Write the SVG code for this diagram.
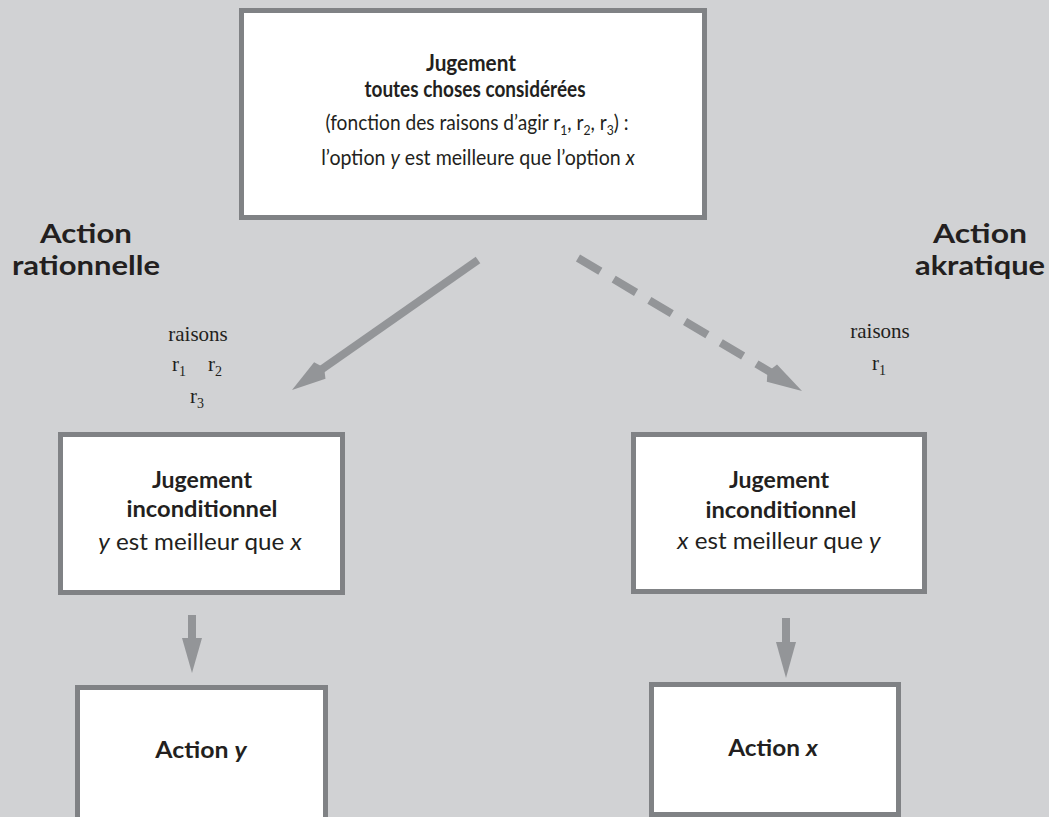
<svg xmlns="http://www.w3.org/2000/svg" width="1049" height="817" viewBox="0 0 1049 817">
  <style>
    .box { fill: #ffffff; stroke: #808285; stroke-width: 5; }
    .sans { font-family: Lato, "Open Sans", "Liberation Sans", sans-serif; fill: #231f20; }
    .serif { font-family: "Liberation Serif", "DejaVu Serif", serif; fill: #231f20; }
    .b { font-weight: bold; }
    .i { font-style: italic; }
    .title { font-size: 26px; font-weight: bold; }
    .t { font-size: 22px; }
    .m { font-size: 23px; }
    .r { font-size: 21px; }
    .sub { font-size: 14px; }
    .arrow { fill: #939598; stroke: none; }
    .shaft { stroke: #939598; stroke-width: 8; fill: none; stroke-linecap: butt; }
  </style>

  <rect width="1049" height="817" fill="#d1d2d4"/>

  <!-- side headings -->
  <g id="label-rationnelle" class="sans title" text-anchor="middle">
    <text x="86" y="243" textLength="92" lengthAdjust="spacingAndGlyphs">Action</text>
    <text x="86" y="275" textLength="148" lengthAdjust="spacingAndGlyphs">rationnelle</text>
  </g>
  <g id="label-akratique" class="sans title" text-anchor="middle">
    <text x="980" y="243" textLength="94" lengthAdjust="spacingAndGlyphs">Action</text>
    <text x="980" y="275" textLength="130" lengthAdjust="spacingAndGlyphs">akratique</text>
  </g>

  <!-- reasons -->
  <g id="raisons-left" class="serif r">
    <text x="198" y="341" text-anchor="middle">raisons</text>
    <text x="172" y="371">r<tspan class="sub" dy="5">1</tspan></text>
    <text x="208" y="371">r<tspan class="sub" dy="5">2</tspan></text>
    <text x="190" y="403">r<tspan class="sub" dy="5">3</tspan></text>
  </g>
  <g id="raisons-right" class="serif r">
    <text x="880" y="338" text-anchor="middle">raisons</text>
    <text x="872" y="370">r<tspan class="sub" dy="5">1</tspan></text>
  </g>

  <!-- top judgement -->
  <g id="jugement-global">
    <rect class="box" x="241.5" y="10.5" width="463" height="207"/>
    <g class="sans t" text-anchor="middle">
      <text x="471" y="71" class="b" textLength="90" lengthAdjust="spacingAndGlyphs">Jugement</text>
      <text x="475" y="97" class="b" textLength="221" lengthAdjust="spacingAndGlyphs">toutes choses considérées</text>
      <text transform="translate(477 130) scale(0.87 1)" x="0" y="0">(fonction des raisons d’agir r<tspan class="sub" dy="5">1</tspan><tspan dy="-5">, r</tspan><tspan class="sub" dy="5">2</tspan><tspan dy="-5">, r</tspan><tspan class="sub" dy="5">3</tspan><tspan dy="-5">) :</tspan></text>
      <text transform="translate(478 165) scale(0.89 1)" x="0" y="0">l’option <tspan class="i">y</tspan> est meilleure que l’option <tspan class="i">x</tspan></text>
    </g>
  </g>

  <!-- unconditional judgements -->
  <g id="jugement-rationnel">
    <rect class="box" x="60.5" y="434.5" width="282" height="158"/>
    <g class="sans m" text-anchor="middle">
      <text x="202" y="488" class="b" textLength="100" lengthAdjust="spacingAndGlyphs">Jugement</text>
      <text x="202" y="517" class="b" textLength="151" lengthAdjust="spacingAndGlyphs">inconditionnel</text>
      <text transform="translate(200 550) scale(1.05 1)" x="0" y="0"><tspan class="i">y</tspan> est meilleur que <tspan class="i">x</tspan></text>
    </g>
  </g>
  <g id="jugement-akratique">
    <rect class="box" x="633.5" y="434.5" width="291" height="157"/>
    <g class="sans m" text-anchor="middle">
      <text x="779" y="488" class="b" textLength="100" lengthAdjust="spacingAndGlyphs">Jugement</text>
      <text x="781" y="518" class="b" textLength="151" lengthAdjust="spacingAndGlyphs">inconditionnel</text>
      <text transform="translate(779 549) scale(1.05 1)" x="0" y="0"><tspan class="i">x</tspan> est meilleur que <tspan class="i">y</tspan></text>
    </g>
  </g>

  <!-- actions -->
  <g id="action-y">
    <rect class="box" x="77.5" y="687.5" width="248" height="140"/>
    <text class="sans m b" transform="translate(201 758) scale(1.08 1)" x="0" y="0" text-anchor="middle">Action <tspan class="i">y</tspan></text>
  </g>
  <g id="action-x">
    <rect class="box" x="651.5" y="684.5" width="247" height="130"/>
    <text class="sans m b" transform="translate(773 756) scale(1.06 1)" x="0" y="0" text-anchor="middle">Action <tspan class="i">x</tspan></text>
  </g>

  <!-- connectors -->
  <g id="connectors">
    <!-- rational path: solid diagonal -->
    <line class="shaft" x1="478" y1="260" x2="320" y2="370.5"/>
    <polygon class="arrow" points="292,390 314.1,362.3 324,367.6 325.5,378.7"/>
    <!-- akratic path: dashed diagonal -->
    <line class="shaft" x1="578" y1="258" x2="772" y2="373.1" stroke-dasharray="26 15.5"/>
    <polygon class="arrow" points="802,391 777,364.5 767.5,372 766.8,381.7"/>
    <!-- judgement to action -->
    <rect class="arrow" x="188" y="615" width="8" height="24"/>
    <polygon class="arrow" points="182,638 202,638 192,673"/>
    <rect class="arrow" x="782" y="618" width="8" height="25"/>
    <polygon class="arrow" points="776,642 796,642 786,678"/>
  </g>
</svg>
